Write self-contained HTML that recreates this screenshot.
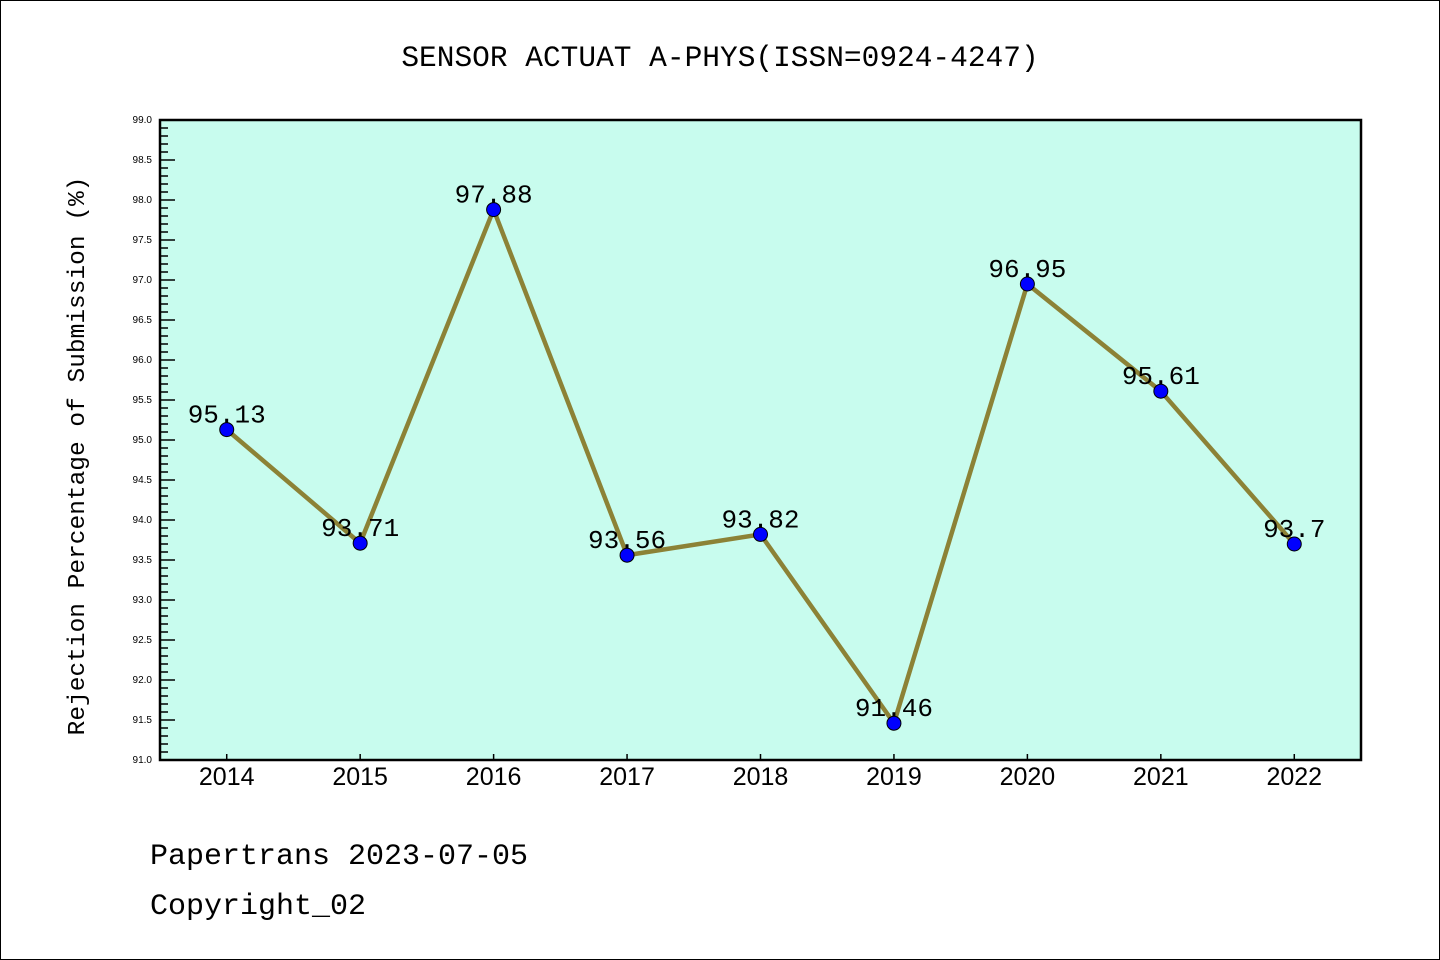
<!DOCTYPE html>
<html><head><meta charset="utf-8"><style>
body{margin:0;background:#fff}
svg{display:block}
.sans{font-family:"Liberation Sans","DejaVu Sans",sans-serif}
.mono{font-family:"Liberation Mono","DejaVu Sans Mono",monospace}
</style></head><body>
<svg id="chart" width="1440" height="960" xmlns="http://www.w3.org/2000/svg">
<rect x="0.5" y="0.5" width="1439" height="959" fill="#fff" stroke="#000"/>
<text class="mono" x="720" y="66" text-anchor="middle" font-size="29.5">SENSOR ACTUAT A-PHYS(ISSN=0924-4247)</text>
<rect x="160" y="120" width="1201" height="640" fill="#c8fcee"/>
<g id="axes"></g>
<text class="mono" transform="translate(84,456) rotate(-90)" text-anchor="middle" font-size="24.5">Rejection Percentage of Submission (%)</text>
<text class="mono" x="150" y="864" font-size="30">Papertrans 2023-07-05</text>
<text class="mono" x="150" y="914" font-size="30">Copyright_02</text>
</svg>
<script>
const categories=["2014","2015","2016","2017","2018","2019","2020","2021","2022"];
const values=[95.13,93.71,97.88,93.56,93.82,91.46,96.95,95.61,93.7];
const valueLabels=["95.13","93.71","97.88","93.56","93.82","91.46","96.95","95.61","93.7"];
const yMin=91,yMax=99;
const L=160,R=1361,T=120,B=760;
const NS="http://www.w3.org/2000/svg";
const g=document.getElementById('axes');
function xs(i){return L+(i+0.5)*(R-L)/categories.length;}
function ys(v){return B-(v-yMin)/(yMax-yMin)*(B-T);}
function mk(t,a){const e=document.createElementNS(NS,t);for(const k in a)e.setAttribute(k,a[k]);g.appendChild(e);return e;}
for(let k=0;k<=80;k++){
  const v=yMin+k*0.1,y=ys(v),major=k%5===0;
  const t=mk('line',{x1:L,x2:L+(major?15:8),y1:y,y2:y,stroke:'#000','stroke-width':1.5});
  
  
  if(major){const tx=mk('text',{x:152,y:y+3,'text-anchor':'end','font-size':10,'class':'sans'});tx.textContent=v.toFixed(1);
    
    }
}
categories.forEach((c,i)=>{
  const x=xs(i);
  const t=mk('line',{x1:x,x2:x,y1:B,y2:B-6,stroke:'#000','stroke-width':1.5});
  
  
  const tx=mk('text',{x:x,y:785,'text-anchor':'middle','font-size':25,'class':'sans'});tx.textContent=c;
  
  
});
const frame=mk('rect',{x:L,y:T,width:R-L,height:B-T,fill:'none',stroke:'#000','stroke-width':2.5});


const pl=mk('polyline',{points:values.map((v,i)=>xs(i)+','+ys(v)).join(' '),fill:'none',stroke:'#8c8236','stroke-width':4.5});


values.forEach((v,i)=>{
  const c=mk('circle',{cx:xs(i),cy:ys(v),r:7,fill:'#0000ff',stroke:'#000','stroke-width':1});
  
  
  const tx=mk('text',{x:xs(i),y:ys(v)-7,'text-anchor':'middle','font-size':26,'class':'mono'});tx.textContent=valueLabels[i];
  
  
});
</script>
</body></html>
